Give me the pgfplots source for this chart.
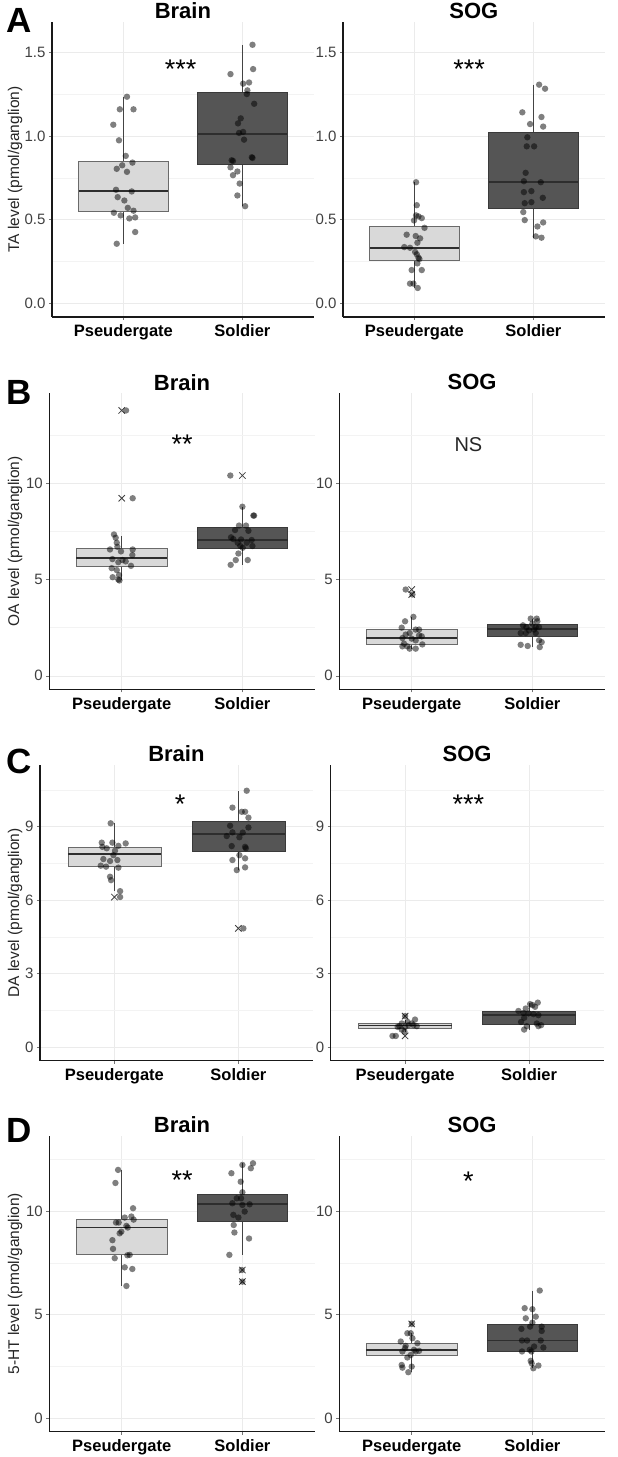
\documentclass[border=0pt]{standalone}
\usepackage{fontspec}
\setmainfont{Liberation Sans}
\usepackage{pgfplots}
\pgfplotsset{compat=1.18}
\usepgfplotslibrary{statistics}
\definecolor{boxlight}{HTML}{D9D9D9}
\definecolor{boxdark}{HTML}{555555}
\definecolor{edgelight}{HTML}{6A6A6A}
\definecolor{edgedark}{HTML}{3A3A3A}
\definecolor{medcol}{HTML}{2E2E2E}
\definecolor{whiskcol}{HTML}{444444}
\definecolor{gridcol}{HTML}{EBEBEB}
\definecolor{gridmin}{HTML}{F3F3F3}
\newcommand\fs[1]{\fontsize{#1}{#1}\selectfont}
\tikzset{sig/.style={font=\fs{27}, anchor=center}}
\pgfplotsset{
  panel/.style={
    scale only axis, anchor=south west,
    xmin=0.4, xmax=2.6, xtick={1,2}, xticklabels={Pseudergate,Soldier},
    axis lines*=left, axis line style={line width=1.3pt, black!90, -},
    tick align=outside, major tick length=3pt,
    major tick style={black!55, line width=0.6pt}, minor tick style={draw=none},
    xmajorgrids, ymajorgrids, yminorgrids,
    major grid style={gridcol, line width=0.6pt},
    minor grid style={gridmin, line width=0.4pt},
    /pgf/number format/assume math mode=true,
    x tick label style={font=\fs{16.5}\bfseries, text=black, yshift=-1.5pt},
    y tick label style={font=\fs{15}, text=black!75},
    every axis title/.style={font=\fs{22}\bfseries, at={(0.5,1)}, anchor=center, yshift=11pt},
    every axis y label/.style={rotate=90, anchor=center, font=\fs{15.5}, text=black!85},
    clip=false,
  },
  lbox/.style={fill=boxlight, draw=edgelight, line width=0.8pt,
    boxplot/draw direction=y,
    boxplot/every median/.style={draw=medcol, line width=1.8pt},
    boxplot/every whisker/.style={draw=whiskcol, line width=0.9pt}},
  dbox/.style={fill=boxdark, draw=edgedark, line width=0.8pt,
    boxplot/draw direction=y,
    boxplot/every median/.style={draw=medcol, line width=1.8pt},
    boxplot/every whisker/.style={draw=whiskcol, line width=0.9pt}},
  pts/.style={only marks, mark=*, mark size=3.2pt, mark options={solid, draw=black, draw opacity=0, fill=black, fill opacity=0.5}},
  outl/.style={only marks, mark=x, mark size=4.5pt, mark options={solid, draw=black!75, line width=0.8pt}},
}
\begin{document}
\begin{tikzpicture}
\useasboundingbox (0pt,0pt) rectangle (618pt,1457pt);

% ---------------- Row A ----------------
\begin{axis}[panel, at={(52pt,1140pt)}, width=261.8pt, height=295pt,
  ymin=-0.08, ymax=1.68, ytick={0,0.5,1,1.5}, yticklabels={0.0,0.5,1.0,1.5},
  minor ytick={0.25,0.75,1.25}, title={Brain}, ylabel={TA level (pmol/ganglion)},
  ylabel style={at={(axis description cs:-0.1413,0.5)}}]
\addplot[lbox, boxplot prepared={draw position=1, box extend=0.75, whisker extend=0,
  lower whisker=0.357, lower quartile=0.55, median=0.673, upper quartile=0.851, upper whisker=1.234}] coordinates {};
\addplot[dbox, boxplot prepared={draw position=2, box extend=0.75, whisker extend=0,
  lower whisker=0.581, lower quartile=0.831, median=1.012, upper quartile=1.262, upper whisker=1.544}] coordinates {};
\addplot[pts] table {
x y
1.03 1.234
0.97 1.159
1.085 1.159
0.915 1.067
0.963 0.974
1.02 0.881
1.076 0.841
0.99 0.825
0.944 0.804
1.03 0.786
0.938 0.679
1.07 0.669
0.952 0.635
1.008 0.615
1.037 0.571
0.92 0.542
1.085 0.554
0.977 0.526
1.05 0.508
1.099 0.514
1.099 0.427
0.944 0.357
};
\addplot[pts] table {
x y
2.085 1.544
1.9 1.369
2.09 1.399
2.006 1.312
2.056 1.319
2.042 1.272
2.037 1.25
2.099 1.192
1.986 1.105
1.963 1.075
1.972 1.018
2.006 1.024
2.014 0.978
1.91 0.855
1.921 0.851
2.079 0.873
2.085 0.869
1.90 0.813
1.958 0.788
1.921 0.766
1.977 0.716
1.958 0.645
2.023 0.581
};
\node[sig] at (axis cs:1.48,1.40) {***};
\end{axis}

\begin{axis}[panel, at={(343pt,1140pt)}, width=261.8pt, height=295pt,
  ymin=-0.08, ymax=1.68, ytick={0,0.5,1,1.5}, yticklabels={0.0,0.5,1.0,1.5},
  minor ytick={0.25,0.75,1.25}, title={SOG}]
\addplot[lbox, boxplot prepared={draw position=1, box extend=0.75, whisker extend=0,
  lower whisker=0.093, lower quartile=0.258, median=0.333, upper quartile=0.462, upper whisker=0.724}] coordinates {};
\addplot[dbox, boxplot prepared={draw position=2, box extend=0.75, whisker extend=0,
  lower whisker=0.393, lower quartile=0.569, median=0.724, upper quartile=1.024, upper whisker=1.306}] coordinates {};
\addplot[pts] table {
x y
1.014 0.724
1.02 0.587
1.014 0.526
1.034 0.52
1.062 0.51
0.997 0.496
1.085 0.452
0.935 0.411
1.011 0.403
1.048 0.389
1.025 0.363
0.915 0.337
0.963 0.333
1.006 0.308
1.02 0.294
1.034 0.274
1.042 0.266
1.025 0.24
0.977 0.2
1.062 0.2
0.963 0.119
0.992 0.119
1.028 0.093
};
\addplot[pts] table {
x y
2.048 1.306
2.098 1.282
1.907 1.141
1.972 1.071
2.068 1.113
2.082 1.056
1.949 0.992
1.944 0.938
2.006 0.938
1.935 0.78
1.92 0.73
2.062 0.724
1.983 0.671
1.92 0.665
2.079 0.631
1.927 0.599
1.983 0.605
1.915 0.546
1.927 0.498
2.082 0.484
2.034 0.46
2.02 0.401
2.068 0.393
};
\node[sig] at (axis cs:1.46,1.40) {***};
\end{axis}

% ---------------- Row B ----------------
\begin{axis}[panel, at={(49.3pt,767.7pt)}, width=265.5pt, height=296pt,
  ymin=-0.7, ymax=14.67, ytick={0,5,10}, minor ytick={2.5,7.5,12.5},
  title={Brain}, ylabel={OA level (pmol/ganglion)},
  ylabel style={at={(axis description cs:-0.1292,0.5)}}]
\addplot[lbox, boxplot prepared={draw position=1, box extend=0.75, whisker extend=0,
  lower whisker=4.95, lower quartile=5.68, median=6.11, upper quartile=6.61, upper whisker=7.27}] coordinates {};
\addplot[dbox, boxplot prepared={draw position=2, box extend=0.75, whisker extend=0,
  lower whisker=5.76, lower quartile=6.63, median=7.05, upper quartile=7.73, upper whisker=8.78}] coordinates {};
\addplot[outl] coordinates {(1,13.78) (1,9.22) (2,10.4)};
\addplot[pts] table {
x y
1.036 13.78
1.091 9.22
0.936 7.34
0.95 7.17
0.959 6.91
0.964 6.70
0.903 6.56
1.091 6.56
0.994 6.46
1.088 6.27
0.923 6.06
1.006 6.01
1.033 5.94
0.972 5.90
1.077 5.71
0.917 5.59
0.959 5.49
0.978 5.23
0.925 5.12
0.972 5.00
0.981 4.95
};
\addplot[pts] table {
x y
1.9 10.4
2.0 8.78
2.091 8.32
2.097 8.32
1.972 7.80
2.03 7.80
1.939 7.57
2.05 7.53
1.906 7.19
1.925 7.10
1.989 7.08
2.077 7.05
1.961 6.91
2.036 6.91
1.983 6.74
2.083 6.74
2.003 6.65
1.967 6.35
1.945 6.01
2.044 6.01
1.903 5.76
};
\node[sig] at (axis cs:1.5,12.0) {**};
\end{axis}

\begin{axis}[panel, at={(339.3pt,767.7pt)}, width=265.5pt, height=296pt,
  ymin=-0.7, ymax=14.67, ytick={0,5,10}, minor ytick={2.5,7.5,12.5}, title={SOG}]
\addplot[lbox, boxplot prepared={draw position=1, box extend=0.75, whisker extend=0,
  lower whisker=1.41, lower quartile=1.63, median=1.98, upper quartile=2.40, upper whisker=3.06}] coordinates {};
\addplot[dbox, boxplot prepared={draw position=2, box extend=0.75, whisker extend=0,
  lower whisker=1.49, lower quartile=2.05, median=2.45, upper quartile=2.66, upper whisker=2.97}] coordinates {};
\addplot[outl] coordinates {(1,4.48) (1,4.22)};
\addplot[pts] table {
x y
0.95 4.48
1.006 4.22
1.014 3.06
0.945 2.83
0.917 2.50
1.033 2.40
1.061 2.40
0.983 2.22
0.95 2.14
1.061 2.10
1.083 2.05
0.923 1.96
1.0 1.93
1.033 1.84
0.936 1.67
1.088 1.63
0.964 1.53
0.923 1.53
1.033 1.41
0.983 1.41
};
\addplot[pts] table {
x y
1.986 2.97
2.036 2.97
2.041 2.83
2.0 2.71
1.922 2.62
1.95 2.53
2.028 2.53
2.055 2.53
2.014 2.40
1.972 2.36
1.903 2.22
1.945 2.22
2.028 2.22
2.077 1.75
2.055 1.84
1.903 1.61
1.961 1.55
2.061 1.49
};
\node[font=\fs{20}, anchor=center, text=black!85] at (axis cs:1.47,12.0) {NS};
\end{axis}

% ---------------- Row C ----------------
\begin{axis}[panel, at={(40pt,396.3pt)}, width=272.8pt, height=295.7pt,
  ymin=-0.55, ymax=11.52, ytick={0,3,6,9}, minor ytick={1.5,4.5,7.5,10.5},
  title={Brain}, ylabel={DA level (pmol/ganglion)},
  ylabel style={at={(axis description cs:-0.0916,0.5)}}]
\addplot[lbox, boxplot prepared={draw position=1, box extend=0.75, whisker extend=0,
  lower whisker=6.37, lower quartile=7.37, median=7.90, upper quartile=8.14, upper whisker=9.14}] coordinates {};
\addplot[dbox, boxplot prepared={draw position=2, box extend=0.75, whisker extend=0,
  lower whisker=7.23, lower quartile=7.98, median=8.70, upper quartile=9.20, upper whisker=10.46}] coordinates {};
\addplot[outl] coordinates {(1,6.13) (2,4.85)};
\addplot[pts] table {
x y
0.97 9.14
0.898 8.35
0.984 8.35
1.091 8.32
0.903 8.18
1.032 8.22
0.938 8.12
1.005 8.02
0.992 7.84
0.911 7.68
0.965 7.60
1.024 7.64
0.89 7.41
0.933 7.37
1.032 7.33
0.965 6.96
0.973 6.82
1.046 6.37
1.046 6.13
};
\addplot[pts] table {
x y
2.067 10.47
1.952 9.78
2.027 9.61
2.054 9.61
2.081 9.37
1.933 9.04
2.081 8.97
1.952 8.77
1.906 8.62
2.035 8.76
2.008 8.57
1.946 8.21
2.054 8.18
2.06 8.12
2.008 7.84
1.952 7.64
2.054 7.71
2.054 7.34
1.987 7.23
2.04 4.85
};
\node[sig] at (axis cs:1.53,9.9) {*};
\end{axis}

\begin{axis}[panel, at={(330.7pt,396.3pt)}, width=272.8pt, height=295.7pt,
  ymin=-0.55, ymax=11.52, ytick={0,3,6,9}, minor ytick={1.5,4.5,7.5,10.5}, title={SOG}]
\addplot[lbox, boxplot prepared={draw position=1, box extend=0.75, whisker extend=0,
  lower whisker=0.63, lower quartile=0.76, median=0.885, upper quartile=0.97, upper whisker=1.13}] coordinates {};
\addplot[dbox, boxplot prepared={draw position=2, box extend=0.75, whisker extend=0,
  lower whisker=0.72, lower quartile=0.93, median=1.31, upper quartile=1.47, upper whisker=1.82}] coordinates {};
\addplot[outl] coordinates {(1,1.27) (1,0.46)};
\addplot[pts] table {
x y
0.898 0.46
0.925 0.46
1.0 1.27
1.08 1.13
1.02 1.03
0.973 0.97
1.054 0.97
0.954 0.86
1.027 0.90
1.0 0.83
1.067 0.90
1.094 0.86
0.973 0.72
0.995 0.63
0.94 0.83
};
\addplot[pts] table {
x y
2.07 1.82
2.027 1.72
2.008 1.76
2.048 1.65
1.973 1.58
1.914 1.48
1.954 1.40
1.995 1.38
2.035 1.35
2.075 1.31
1.96 1.20
1.935 1.03
2.062 0.97
2.097 0.90
2.075 0.86
1.981 0.86
1.96 0.72
};
\node[sig] at (axis cs:1.51,9.9) {***};
\end{axis}

% ---------------- Row D ----------------
\begin{axis}[panel, at={(49.3pt,25.3pt)}, width=265.5pt, height=296pt,
  ymin=-0.65, ymax=13.63, ytick={0,5,10}, minor ytick={2.5,7.5,12.5},
  title={Brain}, ylabel={5-HT level (pmol/ganglion)},
  ylabel style={at={(axis description cs:-0.1292,0.5)}}]
\addplot[lbox, boxplot prepared={draw position=1, box extend=0.75, whisker extend=0,
  lower whisker=6.38, lower quartile=7.88, median=9.20, upper quartile=9.60, upper whisker=11.98}] coordinates {};
\addplot[dbox, boxplot prepared={draw position=2, box extend=0.75, whisker extend=0,
  lower whisker=7.88, lower quartile=9.49, median=10.32, upper quartile=10.79, upper whisker=12.30}] coordinates {};
\addplot[outl] coordinates {(2,7.15) (2,6.59)};
\addplot[pts] table {
x y
0.97 11.98
0.948 11.35
1.094 10.13
1.08 9.73
1.025 9.68
1.099 9.58
0.975 9.44
0.953 9.44
1.039 9.28
1.05 9.20
0.997 9.00
0.983 8.92
0.923 8.59
0.928 8.17
1.047 7.86
1.066 7.88
0.942 7.72
1.025 7.28
1.088 7.20
1.039 6.38
};
\addplot[pts] table {
x y
2.088 12.30
2.0 12.22
2.07 12.06
1.909 11.82
1.986 11.41
2.0 10.90
1.953 10.61
1.989 10.61
1.917 10.37
2.06 10.32
2.0 10.29
2.019 9.97
1.925 9.81
1.967 9.68
1.928 9.32
1.934 8.96
2.055 8.67
1.892 7.88
1.995 7.15
2.0 6.59
};
\node[sig] at (axis cs:1.5,11.5) {**};
\end{axis}

\begin{axis}[panel, at={(339.3pt,25.3pt)}, width=265.5pt, height=296pt,
  ymin=-0.65, ymax=13.63, ytick={0,5,10}, minor ytick={2.5,7.5,12.5}, title={SOG}]
\addplot[lbox, boxplot prepared={draw position=1, box extend=0.75, whisker extend=0,
  lower whisker=2.22, lower quartile=3.01, median=3.30, upper quartile=3.62, upper whisker=4.10}] coordinates {};
\addplot[dbox, boxplot prepared={draw position=2, box extend=0.75, whisker extend=0,
  lower whisker=2.41, lower quartile=3.22, median=3.75, upper quartile=4.55, upper whisker=6.16}] coordinates {};
\addplot[outl] coordinates {(1,4.55)};
\addplot[pts] table {
x y
1.0 4.55
0.992 4.10
0.964 4.10
1.006 3.86
0.909 3.70
1.047 3.62
0.95 3.49
0.945 3.38
1.019 3.30
1.061 3.25
1.033 3.22
0.923 3.22
0.992 3.05
0.964 2.93
0.917 2.57
1.0 2.49
0.923 2.44
0.972 2.22
};
\addplot[pts] table {
x y
2.061 6.16
1.936 5.31
2.0 5.26
1.945 4.82
2.028 4.90
2.0 4.61
1.981 4.42
2.077 4.42
1.909 4.31
2.077 4.21
1.914 3.75
1.956 3.75
2.069 3.75
2.014 3.46
2.091 3.41
1.978 3.30
1.914 3.22
1.992 3.22
1.986 2.77
1.994 2.65
2.05 2.54
2.008 2.41
};
\node[sig] at (axis cs:1.47,11.45) {*};
\end{axis}

% panel letters
\node[font=\fs{35}\bfseries, anchor=center] at (19pt,1436.5pt) {A};
\node[font=\fs{35}\bfseries, anchor=center] at (19pt,1064.5pt) {B};
\node[font=\fs{35}\bfseries, anchor=center] at (19pt,695.5pt) {C};
\node[font=\fs{35}\bfseries, anchor=center] at (19pt,327pt) {D};
\end{tikzpicture}
\end{document}
